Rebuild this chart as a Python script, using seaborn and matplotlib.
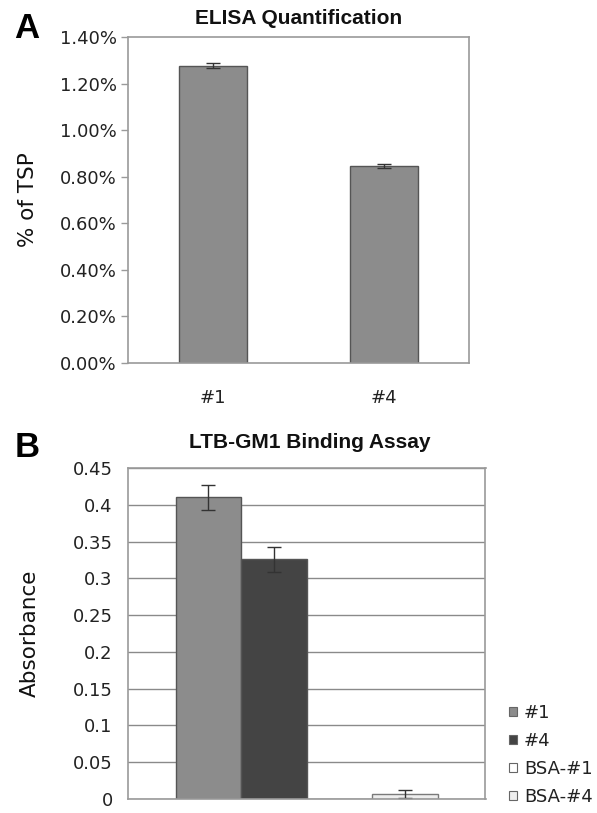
import numpy as np
import pandas as pd
import matplotlib
matplotlib.use("Agg")
import matplotlib.pyplot as plt
import seaborn as sns
from matplotlib.patches import Patch
from matplotlib.ticker import FuncFormatter

# ---------------- data ----------------
elisa_samples = ["#1", "#4"]
elisa_values = [1.277, 0.846]      # % of TSP
elisa_errors = [0.012, 0.010]

binding_samples = ["#1", "#4", "BSA-#1", "BSA-#4"]
binding_values = [0.410, 0.326, 0.0, 0.0066]
binding_errors = [0.017, 0.017, 0.0, 0.0057]
binding_colors = ["#8c8c8c", "#444444", "#ffffff", "#eeeeee"]

a_yticks = [0.0, 0.2, 0.4, 0.6, 0.8, 1.0, 1.2, 1.4]
b_yticks = [0, 0.05, 0.1, 0.15, 0.2, 0.25, 0.3, 0.35, 0.4, 0.45]

# ---------------- style ----------------
sns.set_theme(style="white")
plt.rcParams["font.family"] = ["DejaVu Sans"]
SPINE = "#9a9a9a"
TXT = "#222222"

fig = plt.figure(figsize=(5.97, 8.13), dpi=100)
fig.patch.set_facecolor("white")

# ---------------- panel A ----------------
axA = fig.add_axes([128/597, 1-363/813, (469-128)/597, (363-37)/813])
dfA = pd.DataFrame({"sample": elisa_samples, "value": elisa_values})
sns.barplot(data=dfA, x="sample", y="value", ax=axA, color="#8c8c8c",
            width=0.4, edgecolor="#555555", linewidth=1.0, errorbar=None,
            saturation=1)
centersA = [p.get_x() + p.get_width()/2 for p in axA.patches]
axA.errorbar(centersA, elisa_values, yerr=elisa_errors, fmt="none",
             ecolor="#333333", elinewidth=1.0, capsize=4.7, capthick=1.0)
axA.set_xlim(-0.5, 1.5)
axA.set_ylim(0, 1.4)
axA.set_yticks(a_yticks)
axA.yaxis.set_major_formatter(FuncFormatter(lambda v, p: f"{v:.2f}%"))
axA.set_xlabel("")
axA.set_ylabel("% of TSP", fontsize=15.5, color="#111111")
axA.yaxis.set_label_coords(-0.265, 0.5)
axA.set_xticks([0.5], minor=True)
axA.tick_params(axis="x", which="major", length=0, pad=19, labelsize=13, labelcolor=TXT)
axA.tick_params(axis="x", which="minor", direction="in", length=5, color=SPINE, width=1)
axA.tick_params(axis="y", which="major", direction="out", length=5, color=SPINE,
                width=1, pad=3, labelsize=13, labelcolor=TXT, left=True)
for s in axA.spines.values():
    s.set_color(SPINE)
    s.set_linewidth(1.2)

# ---------------- panel B ----------------
axB = fig.add_axes([128/597, 1-799/813, (485.5-128)/597, (799-468)/813])
dfB = pd.DataFrame({"assay": ["GM1"]*4, "sample": binding_samples,
                    "absorbance": binding_values})
sns.barplot(data=dfB, x="assay", y="absorbance", hue="sample",
            hue_order=binding_samples, palette=binding_colors, ax=axB,
            width=0.733, gap=0, edgecolor="#555555", linewidth=1.0,
            errorbar=None, legend=False, saturation=1)
barsB = list(axB.patches)
for p, c in zip(barsB, binding_colors):
    if c in ("#ffffff", "#eeeeee"):
        p.set_edgecolor("#7a7a7a")
centersB = [p.get_x() + p.get_width()/2 for p in barsB]
for cx, v, e in zip(centersB, binding_values, binding_errors):
    if e > 0:
        axB.errorbar([cx], [v], yerr=[e], fmt="none", ecolor="#333333",
                     elinewidth=1.0, capsize=4.7, capthick=1.0)
axB.set_xlim(-0.5, 0.5)
axB.set_ylim(0, 0.45)
axB.set_yticks(b_yticks)
axB.set_yticklabels([f"{v:g}" for v in b_yticks])
axB.yaxis.grid(True, color="#8a8a8a", linewidth=1.0)
axB.set_axisbelow(True)
axB.set_xticks([])
axB.set_xlabel("")
axB.set_ylabel("Absorbance", fontsize=15.5, color="#111111")
axB.yaxis.set_label_coords(-0.246, 0.5)
axB.tick_params(axis="y", length=0, pad=11, labelsize=13, labelcolor=TXT)
for s in axB.spines.values():
    s.set_color(SPINE)
    s.set_linewidth(1.2)

# legend
handles = [Patch(facecolor=c, edgecolor="#666666", linewidth=0.8) for c in binding_colors]
fig.legend(handles, binding_samples, loc="upper left",
           bbox_to_anchor=(509/597, 1-704/813), frameon=False, fontsize=13,
           handlelength=0.42, handleheight=0.42, handletextpad=0.4,
           labelspacing=0.55, borderpad=0, borderaxespad=0, labelcolor=TXT)

# titles and panel letters
fig.text(298.5/597, 1-18/813, "ELISA Quantification", ha="center", va="center",
         fontsize=15, fontweight="bold", family="Liberation Sans", color="#111111")
fig.text(310/597, 1-442/813, "LTB-GM1 Binding Assay", ha="center", va="center",
         fontsize=15, fontweight="bold", family="Liberation Sans", color="#111111")
fig.text(27/597, 1-28/813, "A", ha="center", va="center", fontsize=25,
         fontweight="bold", family="Liberation Sans", color="black")
fig.text(27/597, 1-447/813, "B", ha="center", va="center", fontsize=25,
         fontweight="bold", family="Liberation Sans", color="black")

fig.savefig("out.png", dpi=100, facecolor="white")
